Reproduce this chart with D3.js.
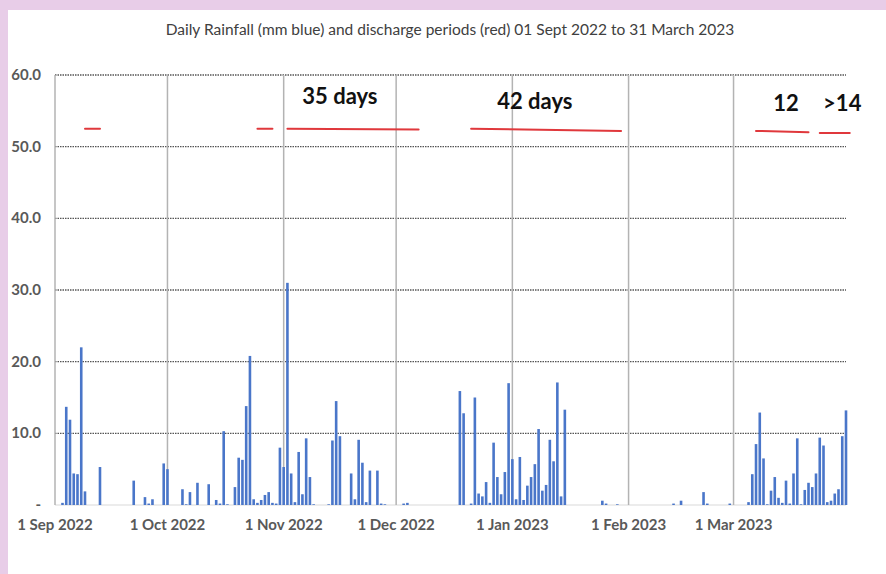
<!DOCTYPE html>
<html>
<head>
<meta charset="utf-8">
<script src="https://cdn.jsdelivr.net/npm/d3@7"></script>
<style>
  body { margin: 0; background: #e8cde8; }
  #chart { position: absolute; left: 8px; top: 10px; width: 878px; height: 564px; background: #fff; }
  svg { display: block; }
</style>
</head>
<body>
<div id="chart"></div>
<script>
// Daily rainfall in mm, one array per month
var rainSep = [0,0,0.3,13.7,11.9,4.4,4.3,22.0,1.9,0,0,0,5.3,0,0,0,0,0,0,0,0,3.4,0,0,1.1,0.2,0.8,0,0,5.8];
var rainOct = [5.0,0,0,0,2.2,0.1,1.8,0,3.1,0,0,2.9,0,0.7,0.2,10.3,0.1,0,2.5,6.6,6.3,13.8,20.8,0.8,0.3,0.7,1.4,1.8,0.3,0.2,8.0];
var rainNov = [5.3,31.0,4.4,0.4,7.4,1.5,9.3,3.9,0.1,0,0,0,0.1,9.0,14.5,9.6,0,0,4.4,0.8,9.1,5.9,0.4,4.8,0,4.8,0.2,0.1,0,0];
var rainDec = [0,0,0.2,0.3,0,0,0,0,0,0,0,0,0,0,0,0,0,15.9,12.8,0,0.2,15.0,1.6,1.2,3.2,0.3,8.7,3.9,1.5,4.6,17.0];
var rainJan = [6.4,0.8,6.7,0.7,2.7,3.9,5.7,10.6,2.0,2.8,9.1,6.1,17.1,1.2,13.3,0,0,0,0,0,0,0,0,0,0.6,0.2,0,0,0.1,0,0];
var rainFeb = [0,0,0,0,0,0,0,0,0,0,0,0,0.2,0,0.6,0,0,0,0,0,1.8,0.2,0,0,0,0,0,0.2];
var rainMar = [0,0,0,0,0.4,4.3,8.5,12.9,6.5,0.1,2.0,3.9,1.0,0.3,3.4,0.2,4.4,9.3,0.1,2.1,3.1,2.5,4.4,9.4,8.3,0.4,0.6,1.6,2.2,9.6,13.2];
var monthStarts = ["2022-09-01","2022-10-01","2022-11-01","2022-12-01","2023-01-01","2023-02-01","2023-03-01"];

// Discharge periods (red), hand drawn on the chart
var dischargeStart = ["2022-09-09","2022-10-25","2022-11-02","2022-12-21","2023-03-07","2023-03-24"];
var dischargeEnd   = ["2022-09-13","2022-10-29","2022-12-07","2023-01-30","2023-03-21","2023-04-01"];
var dischargeLevelStart = [52.5,52.5,52.5,52.5,52.2,51.9];
var dischargeLevelEnd   = [52.5,52.5,52.4,52.2,52.0,51.9];

// Annotations
var noteText = ["35 days","42 days","12",">14"];
var noteDate = ["2022-11-16","2023-01-07","2023-03-15","2023-03-30"];
var noteLevel = [55.9,55.3,55.0,55.0];

var yTicks = [0,10,20,30,40,50,60];

var parse = d3.timeParse("%Y-%m-%d");
var allRain = [].concat(rainSep, rainOct, rainNov, rainDec, rainJan, rainFeb, rainMar);
var firstDay = parse("2022-09-01");
var rain = allRain.map(function(v, i) { return { date: d3.timeDay.offset(firstDay, i), value: v }; });

var width = 878, height = 564;
var plotLeft = 47, plotRight = 838, plotTop = 65, plotBottom = 495;

var svg = d3.select("#chart").append("svg")
    .attr("width", width)
    .attr("height", height);

var x = d3.scaleTime()
    .domain([firstDay, parse("2023-03-31")])
    .range([plotLeft, plotRight]);
var y = d3.scaleLinear().domain([0, 60]).range([plotBottom, plotTop]);

// Title
svg.append("text")
    .attr("x", 442).attr("y", 25)
    .attr("text-anchor", "middle")
    .style("font-family", "Lato, sans-serif")
    .style("font-size", "15.5px")
    .style("fill", "#404040")
    .text("Daily Rainfall (mm blue) and discharge periods (red) 01 Sept 2022 to 31 March 2023");

// Horizontal dotted gridlines
svg.selectAll(".hgrid")
    .data(yTicks.filter(function(d) { return d > 0; }))
    .enter().append("line")
    .attr("x1", plotLeft).attr("x2", plotRight)
    .attr("y1", d => y(d)).attr("y2", d => y(d))
    .attr("stroke", "#555")
    .attr("stroke-width", 1.3)
    .attr("stroke-dasharray", "1.5,1");

// baseline
svg.append("line")
    .attr("x1", plotLeft).attr("x2", plotRight)
    .attr("y1", y(0)).attr("y2", y(0))
    .attr("stroke", "#d9d9d9");

// Vertical month gridlines
svg.selectAll(".vgrid")
    .data(monthStarts)
    .enter().append("line")
    .attr("x1", d => x(parse(d))).attr("x2", d => x(parse(d)))
    .attr("y1", plotTop).attr("y2", plotBottom)
    .attr("stroke", "#b3b3b3")
    .attr("stroke-width", 1.5);

// Y axis labels
svg.selectAll(".ylab")
    .data(yTicks)
    .enter().append("text")
    .attr("x", 33)
    .attr("y", d => y(d) + 5)
    .attr("text-anchor", "end")
    .style("font-family", "Lato, sans-serif")
    .style("font-weight", "bold")
    .style("font-size", "15px")
    .style("fill", "#595959")
    .text(d => d === 0 ? "-" : d.toFixed(1));

// X axis labels
var fmt = d3.timeFormat("%-d %b %Y");
svg.selectAll(".xlab")
    .data(monthStarts)
    .enter().append("text")
    .attr("x", d => x(parse(d)))
    .attr("y", 520)
    .attr("text-anchor", "middle")
    .style("font-family", "Lato, sans-serif")
    .style("font-weight", "bold")
    .style("font-size", "15px")
    .style("fill", "#595959")
    .text(d => fmt(parse(d)));

// Rain bars
var bw = 2.6;
svg.selectAll(".bar")
    .data(rain.filter(d => d.value > 0))
    .enter().append("rect")
    .attr("x", d => x(d.date) - bw / 2)
    .attr("width", bw)
    .attr("y", d => y(d.value))
    .attr("height", d => y(0) - y(d.value))
    .attr("fill", "#4a76c9");

// Discharge periods
svg.selectAll(".discharge")
    .data(dischargeStart)
    .enter().append("line")
    .attr("x1", d => x(parse(d)))
    .attr("x2", (d, i) => x(parse(dischargeEnd[i])))
    .attr("y1", (d, i) => y(dischargeLevelStart[i]))
    .attr("y2", (d, i) => y(dischargeLevelEnd[i]))
    .attr("stroke", "#e0383c")
    .attr("stroke-width", 2)
    .attr("stroke-linecap", "round");

// Day counts
svg.selectAll(".note")
    .data(noteText)
    .enter().append("text")
    .attr("x", (d, i) => x(parse(noteDate[i])))
    .attr("y", (d, i) => y(noteLevel[i]))
    .attr("text-anchor", "middle")
    .style("font-family", "Lato, sans-serif")
    .style("font-weight", "bold")
    .style("font-size", "22px")
    .style("fill", "#111")
    .text(d => d);
</script>
</body>
</html>
